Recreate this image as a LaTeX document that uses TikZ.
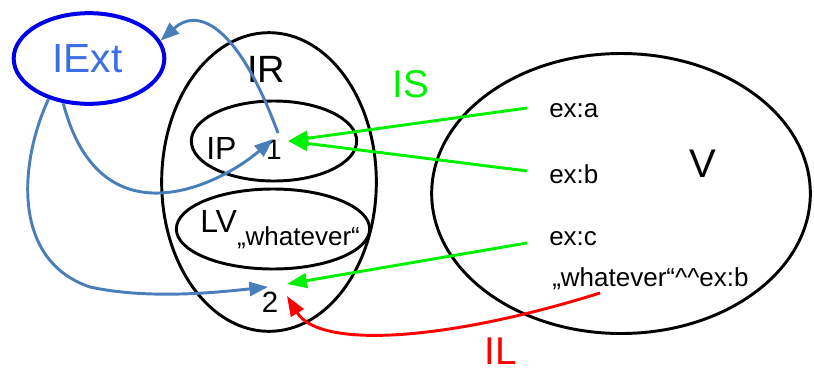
\documentclass[tikz,border=0pt]{standalone}
\usepackage{fontspec}
\setmainfont{Liberation Sans}
\usetikzlibrary{shapes.geometric,arrows.meta,calc}

\definecolor{extblue}{RGB}{0,0,235}
\definecolor{exttext}{RGB}{60,110,230}
\definecolor{linkblue}{RGB}{74,126,187}
\definecolor{isgreen}{RGB}{0,240,0}
\definecolor{ilred}{RGB}{255,0,0}

\newcommand{\fs}[1]{\fontsize{#1}{#1}\selectfont}

\begin{document}
\begin{tikzpicture}[x=0.75pt,y=-0.75pt,
  setbox/.style={ellipse,draw=black,line width=2.2pt,inner sep=0pt},
  lbl/.style={inner sep=0pt,anchor=base west},
  mid/.style={inner sep=0pt,anchor=base},
  blueedge/.style={draw=linkblue,line width=2.2pt,-{Triangle[length=14pt,width=10.5pt]}},
  greenedge/.style={draw=isgreen,line width=2.2pt,-{Triangle[length=15pt,width=11pt]}},
  rededge/.style={draw=ilred,line width=2.2pt,-{Triangle[length=15pt,width=11pt]}}]
\useasboundingbox (0,0) rectangle (814,372);

% sets
\node[ellipse,draw=extblue,line width=3pt,inner sep=0pt,
      minimum width=113pt,minimum height=68pt] (iext) at (89,58.5) {};
\node[setbox,minimum width=161pt,minimum height=224pt] (ir) at (269,182) {};
\node[setbox,minimum width=124pt,minimum height=60pt] (ip) at (274,141) {};
\node[setbox,minimum width=145pt,minimum height=60pt] (lv) at (273,229) {};
\node[setbox,minimum width=284pt,minimum height=210pt] (v) at (621,193.5) {};

% labels
\node[lbl,text=exttext] (iextlabel) at (52,72) {\fs{30.5pt}IExt};
\node[lbl] (irlabel) at (247,82) {\fs{28.5pt}IR};
\node[lbl] (iplabel) at (206,159) {\fs{24pt}IP};
\node[mid] (one) at (274,159) {\fs{21pt}1};
\node[lbl] (lvlabel) at (200,232) {\fs{24pt}LV\raisebox{-10pt}{\fs{19.5pt}„whatever“}};
\node[mid] (two) at (270,312) {\fs{22pt}2};
\node[mid] (vlabel) at (703,177) {\fs{30pt}V};
\node[lbl] (exa) at (549,117) {\fs{19.5pt}ex:a};
\node[lbl] (exb) at (549,183) {\fs{19.5pt}ex:b};
\node[lbl] (exc) at (549,245) {\fs{19.5pt}ex:c};
\node[lbl] (lit) at (552,286) {\fs{19.5pt}„whatever“\textasciicircum\textasciicircum ex:b};
\node[lbl,text=isgreen] (islabel) at (392,97) {\fs{29pt}IS};
\node[lbl,text=ilred] (illabel) at (484,364) {\fs{29pt}IL};

% extension links
\draw[blueedge] ($(one.base)+(4,-26)$) .. controls (240,30) and (200,5) .. (iext.14);
\draw[blueedge] (iext.-120) .. controls (100,245) and (220,185) .. ($(one.base)+(-1,-20)$);
\draw[blueedge] (iext.-135) .. controls (20,160) and (10,260) .. (90,287)
                .. controls (150,300) and (220,292) .. ($(two.base)+(-2,-25)$);

% IS links
\draw[greenedge] ($(exa.base west)+(-22,-9)$) -- ($(one.base)+(14,-18)$);
\draw[greenedge] ($(exb.base west)+(-22,-12)$) -- ($(one.base)+(14,-18)$);
\draw[greenedge] ($(exc.base west)+(-22,-2)$) -- ($(two.base)+(17,-28)$);

% IL link
\draw[rededge] ($(lit.base west)+(48,7)$) .. controls (450,340) and (320,350) .. ($(two.base)+(17,-16)$);
\end{tikzpicture}
\end{document}
